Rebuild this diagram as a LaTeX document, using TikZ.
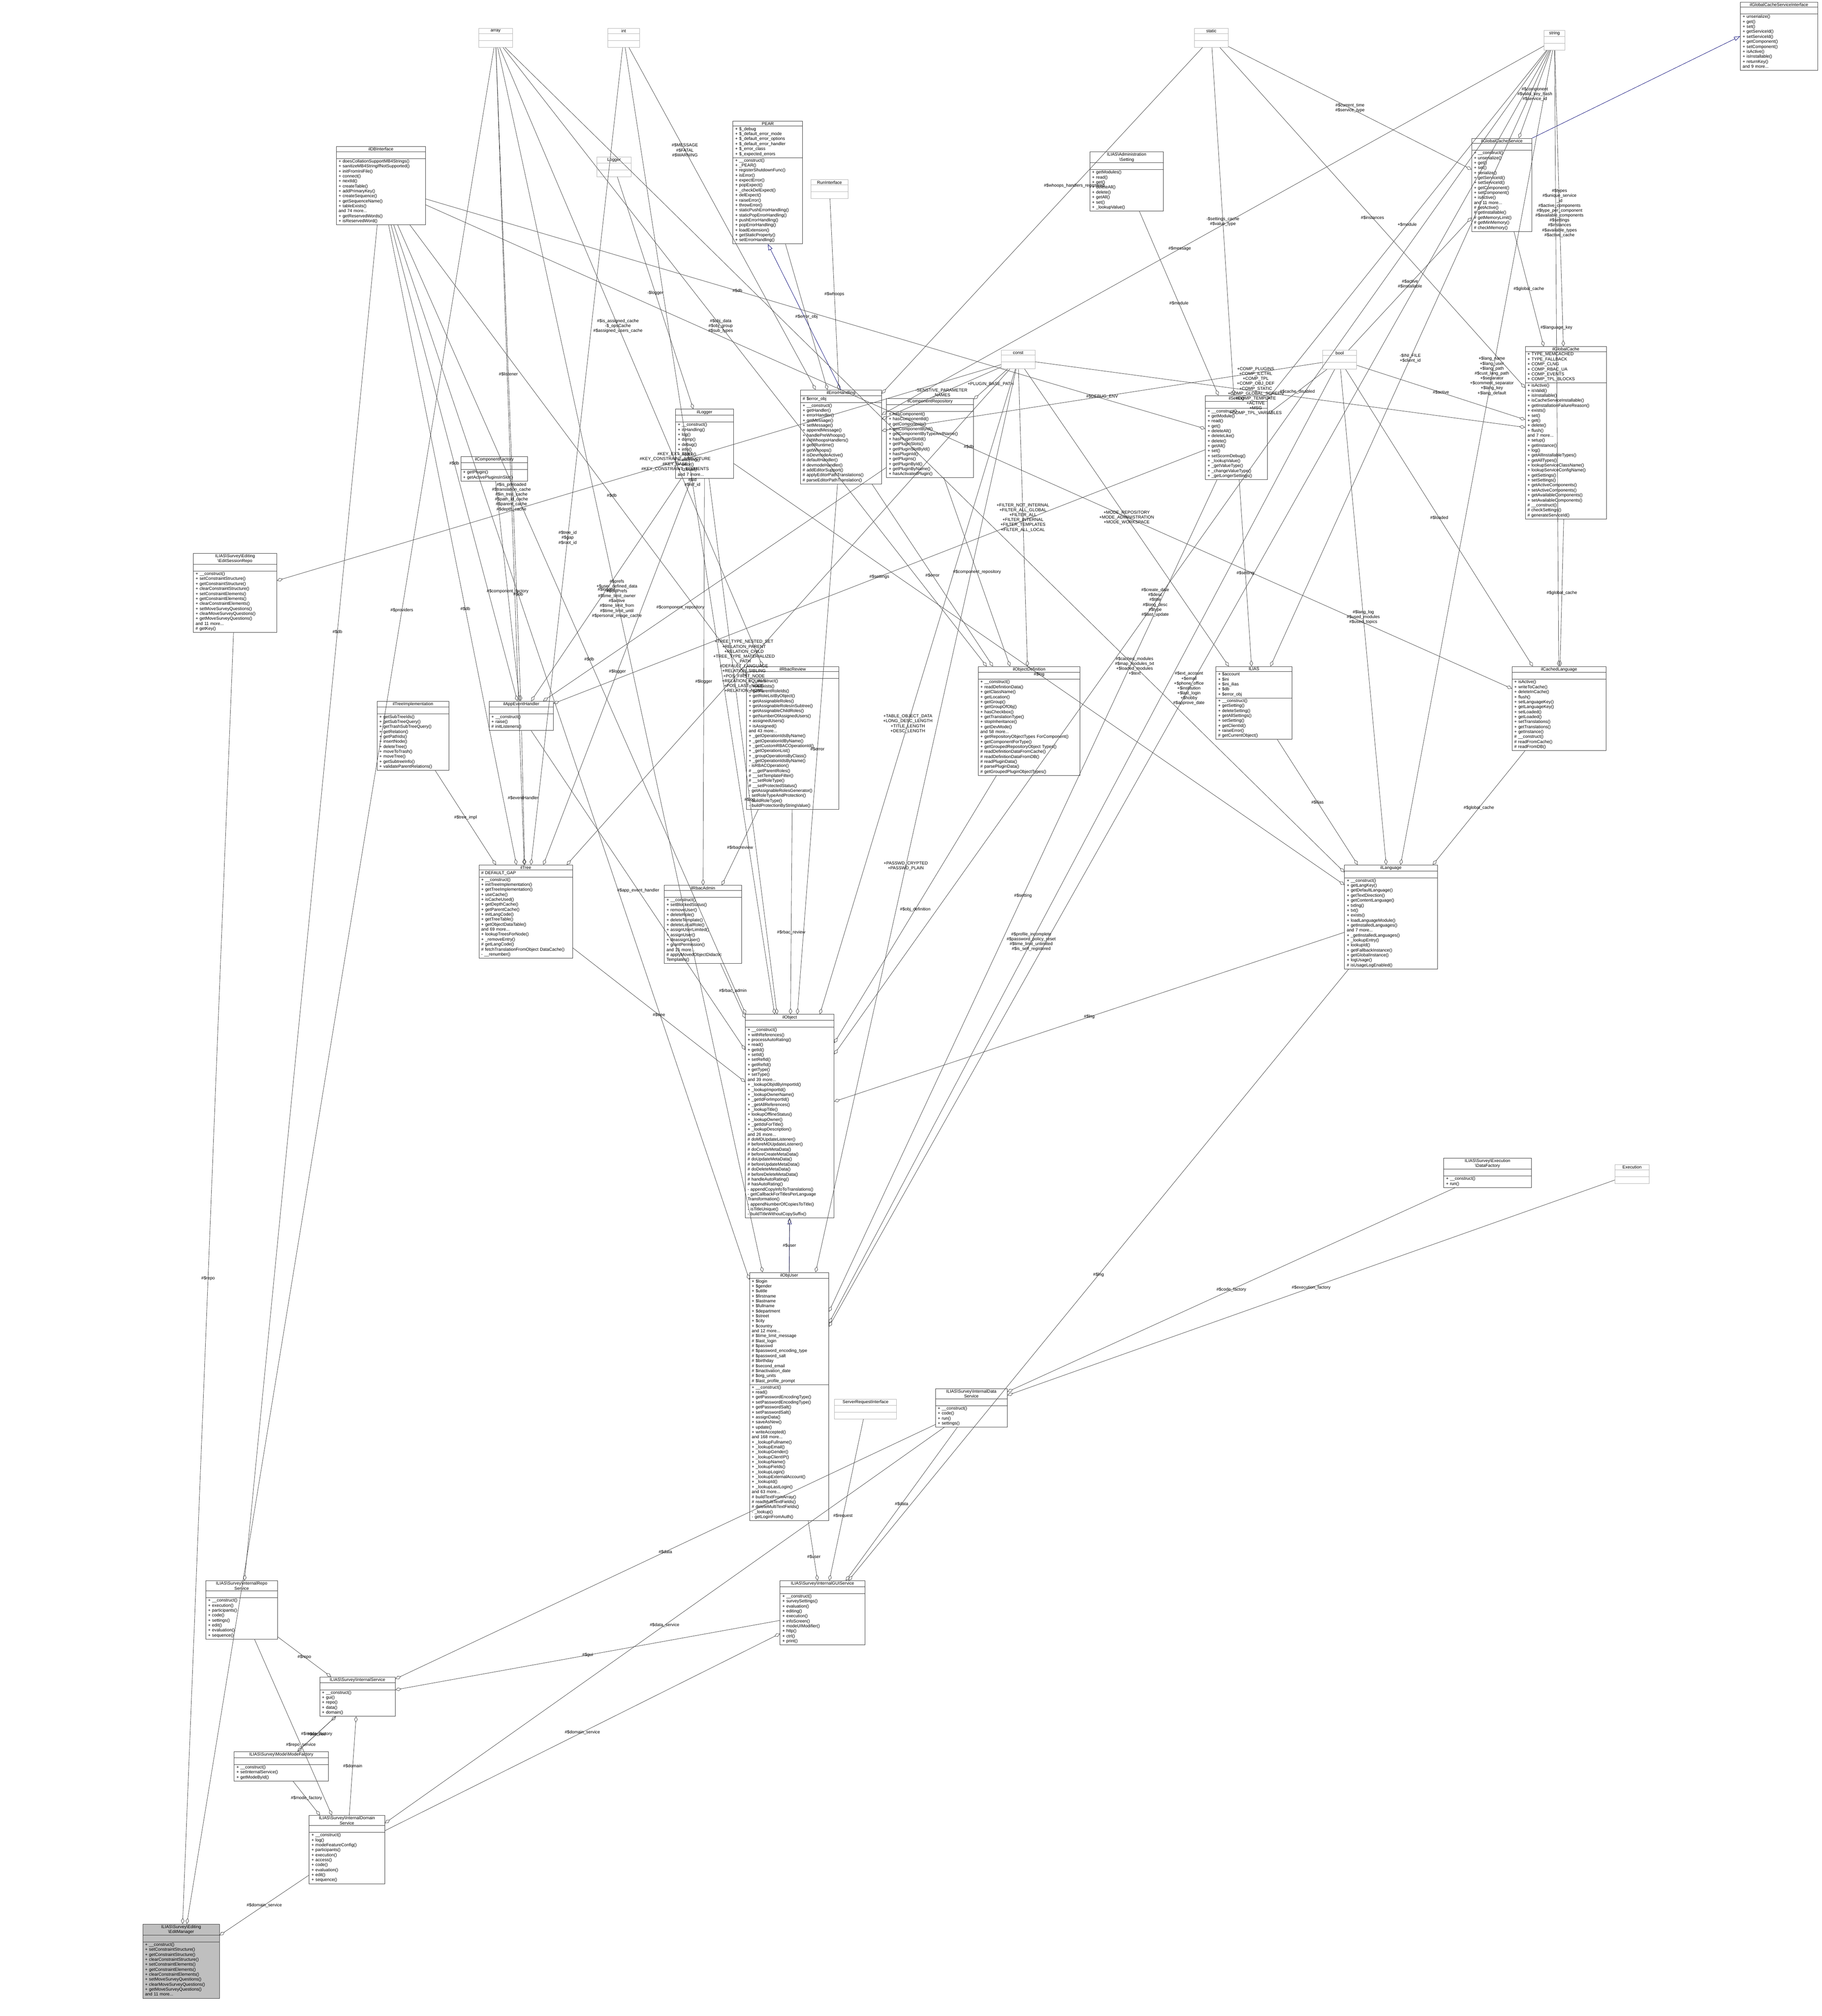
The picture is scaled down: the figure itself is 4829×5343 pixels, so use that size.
\documentclass[tikz,border=0pt]{standalone}
\usepackage{fontspec}
\setmainfont{Liberation Sans}
\usetikzlibrary{shapes.multipart,arrows.meta}
\newcommand\bs{\textbackslash{}}
\newcommand\umlc[8]{\node[cls,text width=#4pt,#8] (#1) at (#2,#3)
 {\centering #5\par\nodepart{two}\raggedright\leftskip=6pt #6\strut\par\nodepart{three}\raggedright\leftskip=6pt #7\strut\par};}
\tikzset{
 cls/.style={rectangle split,rectangle split parts=3,draw=black!80,line width=1pt,anchor=north west,
   inner xsep=0pt,inner ysep=2pt,font=\fontsize{11.5}{13.2}\selectfont,fill=white},
 grey/.style={draw=black!30},
 agg/.style={draw=black!75,line width=0.9pt,-{Diamond[open,length=16pt,width=9pt]}},
 inh/.style={draw=blue!45!black,line width=0.9pt,-{Triangle[open,length=16pt,width=11pt]}},
 lbl/.style={font=\fontsize{11.5}{13}\selectfont,align=center,inner sep=1pt}
}
\begin{document}
\begin{tikzpicture}[x=1pt,y=-1pt]
\useasboundingbox (0,0) rectangle (4829,5343);
\fill[white] (0,0) rectangle (4829,5343);
% small grey boxes
\umlc{array}{1268}{75}{90}{array}{}{}{grey}
\umlc{int}{1610}{75}{85}{int}{}{}{grey}
\umlc{static}{3165}{75}{90}{static}{}{}{grey}
\umlc{string}{4092}{80}{55}{string}{}{}{grey}
\umlc{Logger}{1582}{416}{90}{Logger}{}{}{grey}
\umlc{const}{2653}{928}{90}{const}{}{}{grey}
\umlc{bool}{3505}{928}{90}{bool}{}{}{grey}
\umlc{Execution}{4280}{3086}{90}{Execution}{}{}{grey}
\umlc{RunInterface}{2149}{476}{98}{RunInterface}{}{}{grey}
\umlc{SRI}{2211}{3708}{165}{ServerRequestInterface}{}{}{grey}
% classes
\umlc{IGCSI}{4612}{5}{205}{ilGlobalCacheServiceInterface}{}{+ unserialize()\\+ get()\\+ set()\\+ getServiceId()\\+ setServiceId()\\+ getComponent()\\+ setComponent()\\+ isActive()\\+ isInstallable()\\+ returnKey()\\and 9 more...}{}
\umlc{PEAR}{1942}{321}{185}{PEAR}{+ \$\_debug\\+ \$\_default\_error\_mode\\+ \$\_default\_error\_options\\+ \$\_default\_error\_handler\\+ \$\_error\_class\\+ \$\_expected\_errors}{+ \_\_construct()\\+ \_PEAR()\\+ registerShutdownFunc()\\+ isError()\\+ expectError()\\+ popExpect()\\+ \_checkDelExpect()\\+ delExpect()\\+ raiseError()\\+ throwError()\\+ staticPushErrorHandling()\\+ staticPopErrorHandling()\\+ pushErrorHandling()\\+ popErrorHandling()\\+ loadExtension()\\+ getStaticProperty()\\+ setErrorHandling()}{}
\umlc{AdmSetting}{2888}{402}{195}{ILIAS\bs Administration\\\bs Setting}{}{+ getModules()\\+ read()\\+ get()\\+ deleteAll()\\+ delete()\\+ getAll()\\+ set()\\+ \_lookupValue()}{}
\umlc{IGCS}{3900}{366}{160}{ilGlobalCacheService}{}{+ \_\_construct()\\+ unserialize()\\+ get()\\+ set()\\+ serialize()\\+ getServiceId()\\+ setServiceId()\\+ getComponent()\\+ setComponent()\\+ isActive()\\and 11 more...\\\# getActive()\\\# getInstallable()\\\# getMemoryLimit()\\\# getMinMemory()\\\# checkMemory()}{}
\umlc{ilDB}{891}{388}{236}{ilDBInterface}{}{+ doesCollationSupportMB4Strings()\\+ sanitizeMB4StringIfNotSupported()\\+ initFromIniFile()\\+ connect()\\+ nextId()\\+ createTable()\\+ addPrimaryKey()\\+ createSequence()\\+ getSequenceName()\\+ tableExists()\\and 74 more...\\+ getReservedWords()\\+ isReservedWord()}{}
\umlc{ilErr}{2121}{1033}{215}{ilErrorHandling}{\# \$error\_obj}{+ \_\_construct()\\+ getHandler()\\+ errorHandler()\\+ getMessage()\\+ setMessage()\\+ appendMessage()\\+ handlePreWhoops()\\\# initWhoopsHandlers()\\\# getIlRuntime()\\\# getWhoops()\\\# isDevmodeActive()\\\# defaultHandler()\\\# devmodeHandler()\\\# addEditorSupport()\\\# applyEditorPathTranslations()\\\# parseEditorPathTranslation()}{}
\umlc{ilCR}{2349}{1056}{231}{ilComponentRepository}{}{+ hasComponent()\\+ hasComponentId()\\+ getComponents()\\+ getComponentById()\\+ getComponentByTypeAndName()\\+ hasPluginSlotId()\\+ getPluginSlots()\\+ getPluginSlotById()\\+ hasPluginId()\\+ getPlugins()\\+ getPluginById()\\+ getPluginByName()\\+ hasActivatedPlugin()}{}
\umlc{ilSetting}{3194}{1048}{165}{ilSetting}{}{+ \_\_construct()\\+ getModule()\\+ read()\\+ get()\\+ deleteAll()\\+ deleteLike()\\+ delete()\\+ getAll()\\+ set()\\+ setScormDebug()\\+ \_lookupValue()\\+ \_getValueType()\\+ \_changeValueType()\\+ \_getLongerSettings()}{}
\umlc{ilGC}{4042}{918}{215}{ilGlobalCache}{+ TYPE\_MEMCACHED\\+ TYPE\_FALLBACK\\+ COMP\_CLNG\\+ COMP\_RBAC\_UA\\+ COMP\_EVENTS\\+ COMP\_TPL\_BLOCKS}{+ isActive()\\+ isValid()\\+ isInstallable()\\+ isCacheServiceInstallable()\\+ getInstallationFailureReason()\\+ exists()\\+ set()\\+ get()\\+ delete()\\+ flush()\\and 7 more...\\+ setup()\\+ getInstance()\\+ log()\\+ getAllInstallableTypes()\\+ getAllTypes()\\+ lookupServiceClassName()\\+ lookupServiceConfigName()\\+ getSettings()\\+ setSettings()\\+ getActiveComponents()\\+ setActiveComponents()\\+ getAvailableComponents()\\+ setAvailableComponents()\\\# \_\_construct()\\\# checkSettings()\\\# generateServiceId()}{}
\umlc{ilLogger}{1790}{1084}{154}{ilLogger}{}{+ \_\_construct()\\+ isHandling()\\+ log()\\+ dump()\\+ debug()\\+ info()\\+ notice()\\+ warning()\\+ error()\\+ critical()\\and 7 more...}{}
\umlc{ilCF}{1221}{1210}{177}{ilComponentFactory}{}{+ getPlugin()\\+ getActivePluginsInSlot()}{}
\umlc{ESR}{512}{1466}{221}{ILIAS\bs Survey\bs Editing\\\bs EditSessionRepo}{}{+ \_\_construct()\\+ setConstraintStructure()\\+ getConstraintStructure()\\+ clearConstraintStructure()\\+ setConstraintElements()\\+ getConstraintElements()\\+ clearConstraintElements()\\+ setMoveSurveyQuestions()\\+ clearMoveSurveyQuestions()\\+ getMoveSurveyQuestions()\\and 11 more...\\\# getKey()}{}
\umlc{ilTI}{999}{1858}{190}{ilTreeImplementation}{}{+ getSubTreeIds()\\+ getSubTreeQuery()\\+ getTrashSubTreeQuery()\\+ getRelation()\\+ getPathIds()\\+ insertNode()\\+ deleteTree()\\+ moveToTrash()\\+ moveTree()\\+ getSubtreeInfo()\\+ validateParentRelations()}{}
\umlc{ilAEH}{1296}{1858}{170}{ilAppEventHandler}{}{+ \_\_construct()\\+ raise()\\\# initListeners()}{}
\umlc{ilRR}{1978}{1766}{245}{ilRbacReview}{}{+ \_\_construct()\\+ roleExists()\\+ getParentRoleIds()\\+ getRoleListByObject()\\+ getAssignableRoles()\\+ getAssignableRolesInSubtree()\\+ getAssignableChildRoles()\\+ getNumberOfAssignedUsers()\\+ assignedUsers()\\+ isAssigned()\\and 43 more...\\+ \_getOperationIdsByName()\\+ \_getOperationIdByName()\\+ \_getCustomRBACOperationId()\\+ \_getOperationList()\\+ \_groupOperationsByClass()\\+ \_getOperationIdsByName()\\- isRBACOperation()\\\# \_\_getParentRoles()\\\# \_\_setTemplateFilter()\\\# \_\_setRoleType()\\\# \_\_setProtectedStatus()\\- getAssignableRolesGenerator()\\- setRoleTypeAndProtection()\\- buildRoleType()\\- buildProtectionByStringValue()}{}
\umlc{ilOD}{2592}{1766}{270}{ilObjectDefinition}{}{+ \_\_construct()\\+ readDefinitionData()\\+ getClassName()\\+ getLocation()\\+ getGroup()\\+ getGroupOfObj()\\+ hasCheckbox()\\+ getTranslationType()\\+ stopInheritance()\\+ getDevMode()\\and 58 more...\\+ getRepositoryObjectTypes ForComponent()\\+ getComponentForType()\\+ getGroupedRepositoryObject Types()\\\# readDefinitionDataFromCache()\\\# readDefinitionDataFromDB()\\\# readPluginData()\\\# parsePluginData()\\\# getGroupedPluginObjectTypes()}{}
\umlc{ilIAS}{3222}{1766}{202}{ILIAS}{+ \$account\\+ \$ini\\+ \$ini\_ilias\\+ \$db\\+ \$error\_obj}{+ \_\_construct()\\+ getSetting()\\+ deleteSetting()\\+ getAllSettings()\\+ setSetting()\\+ getClientId()\\+ raiseError()\\\# getCurrentObject()}{}
\umlc{ilCL}{4007}{1766}{249}{ilCachedLanguage}{}{+ isActive()\\+ writeToCache()\\+ deleteInCache()\\+ flush()\\+ setLanguageKey()\\+ getLanguageKey()\\+ setLoaded()\\+ getLoaded()\\+ setTranslations()\\+ getTranslations()\\+ getInstance()\\\# \_\_construct()\\\# readFromCache()\\\# readFromDB()}{}
\umlc{ilTree}{1269}{2292}{248}{ilTree}{\# DEFAULT\_GAP}{+ \_\_construct()\\+ initTreeImplementation()\\+ getTreeImplementation()\\+ useCache()\\+ isCacheUsed()\\+ getDepthCache()\\+ getParentCache()\\+ initLangCode()\\+ getTreeTable()\\+ getObjectDataTable()\\and 69 more...\\+ lookupTreesForNode()\\+ \_removeEntry()\\\# getLangCode()\\\# fetchTranslationFromObject DataCache()\\- \_\_renumber()}{}
\umlc{ilRA}{1760}{2346}{205}{ilRbacAdmin}{}{+ \_\_construct()\\+ setBlockedStatus()\\+ removeUser()\\+ deleteRole()\\+ deleteTemplate()\\+ deleteLocalRole()\\+ assignUserLimited()\\+ assignUser()\\+ deassignUser()\\+ grantPermission()\\and 15 more...\\\# applyMovedObjectDidactic Templates()}{}
\umlc{ilLng}{3563}{2292}{246}{ilLanguage}{}{+ \_\_construct()\\+ getLangKey()\\+ getDefaultLanguage()\\+ getTextDirection()\\+ getContentLanguage()\\+ txtlng()\\+ txt()\\+ exists()\\+ loadLanguageModule()\\+ getInstalledLanguages()\\and 7 more...\\+ \_getInstalledLanguages()\\+ \_lookupEntry()\\+ lookupId()\\+ getFallbackInstance()\\+ getGlobalInstance()\\+ logUsage()\\\# isUsageLogEnabled()}{}
\umlc{ilObject}{1975}{2688}{235}{ilObject}{}{+ \_\_construct()\\+ withReferences()\\+ processAutoRating()\\+ read()\\+ getId()\\+ setId()\\+ setRefId()\\+ getRefId()\\+ getType()\\+ setType()\\and 39 more...\\+ \_lookupObjIdByImportId()\\+ \_lookupImportId()\\+ \_lookupOwnerName()\\+ \_getIdForImportId()\\+ \_getAllReferences()\\+ \_lookupTitle()\\+ lookupOfflineStatus()\\+ \_lookupOwner()\\+ \_getIdsForTitle()\\+ \_lookupDescription()\\and 26 more...\\\# doMDUpdateListener()\\\# beforeMDUpdateListener()\\\# doCreateMetaData()\\\# beforeCreateMetaData()\\\# doUpdateMetaData()\\\# beforeUpdateMetaData()\\\# doDeleteMetaData()\\\# beforeDeleteMetaData()\\\# handleAutoRating()\\\# hasAutoRating()\\- appendCopyInfoToTranslations()\\- getCallbackForTitlesPerLanguage Transformation()\\- appendNumberOfCopiesToTitle()\\- isTitleUnique()\\- buildTitleWithoutCopySuffix()}{}
\umlc{ilObjUser}{1986}{3372}{210}{ilObjUser}{+ \$login\\+ \$gender\\+ \$utitle\\+ \$firstname\\+ \$lastname\\+ \$fullname\\+ \$department\\+ \$street\\+ \$city\\+ \$country\\and 12 more...\\\# \$time\_limit\_message\\\# \$last\_login\\\# \$passwd\\\# \$password\_encoding\_type\\\# \$password\_salt\\\# \$birthday\\\# \$second\_email\\\# \$inactivation\_date\\\# \$org\_units\\\# \$last\_profile\_prompt}{+ \_\_construct()\\+ read()\\+ getPasswordEncodingType()\\+ setPasswordEncodingType()\\+ getPasswordSalt()\\+ setPasswordSalt()\\+ assignData()\\+ saveAsNew()\\+ update()\\+ writeAccepted()\\and 168 more...\\+ \_lookupFullname()\\+ \_lookupEmail()\\+ \_lookupGender()\\+ \_lookupClientIP()\\+ \_lookupName()\\+ \_lookupFields()\\+ \_lookupLogin()\\+ \_lookupExternalAccount()\\+ \_lookupId()\\+ \_lookupLastLogin()\\and 63 more...\\\# buildTextFromArray()\\\# readMultiTextFields()\\\# deleteMultiTextFields()\\- \_lookup()\\- getLoginFromAuth()}{}
\umlc{DF}{3826}{3069}{232}{ILIAS\bs Survey\bs Execution\\\bs DataFactory}{}{+ \_\_construct()\\+ run()}{}
\umlc{IDS}{2479}{3680}{190}{ILIAS\bs Survey\bs InternalData\\Service}{}{+ \_\_construct()\\+ code()\\+ run()\\+ settings()}{}
\umlc{IRS}{545}{4189}{190}{ILIAS\bs Survey\bs InternalRepo\\Service}{}{+ \_\_construct()\\+ execution()\\+ participants()\\+ code()\\+ settings()\\+ edit()\\+ evaluation()\\+ sequence()}{}
\umlc{IGS}{2067}{4189}{225}{ILIAS\bs Survey\bs InternalGUIService}{}{+ \_\_construct()\\+ surveySettings()\\+ evaluation()\\+ editing()\\+ execution()\\+ infoScreen()\\+ modeUIModifier()\\+ http()\\+ ctrl()\\+ print()}{}
\umlc{IS}{847}{4444}{200}{ILIAS\bs Survey\bs InternalService}{}{+ \_\_construct()\\+ gui()\\+ repo()\\+ data()\\+ domain()}{}
\umlc{MF}{620}{4642}{250}{ILIAS\bs Survey\bs Mode\bs ModeFactory}{}{+ \_\_construct()\\+ setInternalService()\\+ getModeById()}{}
\umlc{IDomS}{819}{4811}{200}{ILIAS\bs Survey\bs InternalDomain\\Service}{}{+ \_\_construct()\\+ log()\\+ modeFeatureConfig()\\+ participants()\\+ execution()\\+ access()\\+ code()\\+ evaluation()\\+ edit()\\+ sequence()}{}
\umlc{EM}{378}{5099}{203}{ILIAS\bs Survey\bs Editing\\\bs EditManager}{}{+ \_\_construct()\\+ setConstraintStructure()\\+ getConstraintStructure()\\+ clearConstraintStructure()\\+ setConstraintElements()\\+ getConstraintElements()\\+ clearConstraintElements()\\+ setMoveSurveyQuestions()\\+ clearMoveSurveyQuestions()\\+ getMoveSurveyQuestions()\\and 11 more...}{fill=black!25}
% inheritance
\draw[inh] (ilErr.north) -- (PEAR.south);
\draw[inh] (IGCS.north east) -- (IGCSI.west);
\draw[inh] (ilObjUser.north) -- (ilObject.south);
% aggregations
\draw[agg] (ilDB) -- (ilObject) node[lbl,pos=.55]{\#\$db};
\draw[agg] (ilDB) -- (ilTree) node[lbl,pos=.6]{\#\$db};
\draw[agg] (ilDB) -- (ilRR) node[lbl,pos=.6]{\#\$db};
\draw[agg] (ilDB) -- (ilSetting) node[lbl,pos=.4]{\#\$db};
\draw[agg] (ilDB) -- (IRS) node[lbl,pos=.3]{\#\$db};
\draw[agg] (ilDB) -- (ilObjUser) node[lbl,pos=.35]{\#\$db};
\draw[agg] (ilDB) -- (ilAEH) node[lbl,pos=.5]{\#\$db};
\draw[agg] (ilDB) -- (ilCL) node[lbl,pos=.5]{\#\$db};
\draw[agg] (array) -- (ilObjUser) node[lbl,pos=.45]{\#\$prefs\\+\$user\_defined\_data\\\#\$oldPrefs\\\#\$time\_limit\_owner\\\#\$active\\\#\$time\_limit\_from\\\#\$time\_limit\_until\\\#\$personal\_image\_cache};
\draw[agg] (array) -- (ilTree) node[lbl,pos=.55]{\#\$is\_preloaded\\\#\$translation\_cache\\\#\$in\_tree\_cache\\\#\$path\_id\_cache\\\#\$parent\_cache\\\#\$depth\_cache};
\draw[agg] (array) -- (ilRR) node[lbl,pos=.45]{\#\$is\_assigned\_cache\\-\$\_opsCache\\\#\$assigned\_users\_cache};
\draw[agg] (array) -- (ilOD) node[lbl,pos=.45]{\#\$obj\_data\\\#\$obj\_group\\\#\$sub\_types};
\draw[agg] (array) -- (ilAEH) node[lbl,pos=.5]{\#\$listener};
\draw[agg] (array) -- (EM) node[lbl,pos=.3]{\#\$providers};
\draw[agg] (array) -- (ilLng) node[lbl,pos=.75]{\#\$cached\_modules\\\#\$map\_modules\_txt\\+\$loaded\_modules\\+\$text};
\draw[agg] (int) -- (ilTree) node[lbl,pos=.6]{\#\$tree\_id\\\#\$gap\\\#\$root\_id};
\draw[agg] (int) -- (ilObject) node[lbl,pos=.45]{\#\$id\\\#\$ref\_id};
\draw[agg] (int) -- (ilErr) node[lbl,pos=.3]{\#\$MESSAGE\\\#\$FATAL\\\#\$WARNING};
\draw[agg] (static) -- (ilGC) node[lbl,pos=.5]{\#\$instances};
\draw[agg] (static) -- (IGCS) node[lbl,pos=.5]{\#\$current\_time\\\#\$service\_type};
\draw[agg] (static) -- (ilSetting) node[lbl,pos=.5]{-\$settings\_cache\\\#\$value\_type};
\draw[agg] (static) -- (ilErr) node[lbl,pos=.4]{\#\$whoops\_handlers\_registered};
\draw[agg] (string) -- (IGCS) node[lbl,pos=.5]{\#\$component\\\#\$valid\_key\_hash\\\#\$service\_id};
\draw[agg] (string) -- (ilGC) node[lbl,pos=.55]{\#\$types\\\#\$unique\_service\\\_id\\\#\$active\_components\\\#\$type\_per\_component\\\#\$available\_components\\\#\$settings\\\#\$instances\\\#\$available\_types\\\#\$active\_cache};
\draw[agg] (string) -- (ilCL) node[lbl,pos=.45]{\#\$language\_key};
\draw[agg] (string) -- (ilLng) node[lbl,pos=.4]{+\$lang\_name\\+\$lang\_user\\+\$lang\_path\\\#\$cust\_lang\_path\\+\$separator\\+\$comment\_separator\\+\$lang\_key\\+\$lang\_default};
\draw[agg] (string) -- (ilObjUser) node[lbl,pos=.5]{\#\$ext\_account\\+\$email\\+\$phone\_office\\+\$institution\\+\$last\_login\\+\$hobby\\\#\$approve\_date};
\draw[agg] (string) -- (ilObject) node[lbl,pos=.55]{\#\$create\_date\\\#\$desc\\\#\$title\\\#\$long\_desc\\\#\$type\\\#\$last\_update};
\draw[agg] (string) -- (ilIAS) node[lbl,pos=.5]{-\$INI\_FILE\\+\$client\_id};
\draw[agg] (string) -- (ilErr) node[lbl,pos=.55]{\#\$message};
\draw[agg] (string) -- (ilSetting) node[lbl,pos=.5]{+\$module};
\draw[agg] (RunInterface) -- (ilErr) node[lbl,pos=.5]{\#\$whoops};
\draw[agg] (Logger) -- (ilLogger) node[lbl,pos=.5]{-\$logger};
\draw[agg] (ilLogger) -- (ilTree) node[lbl,pos=.5]{\#\$logger};
\draw[agg] (ilLogger) -- (ilRA) node[lbl,pos=.5]{\#\$logger};
\draw[agg] (ilLogger) -- (ilAEH) node[lbl,pos=.5]{\#\$logger};
\draw[agg] (ilLogger) -- (ilObject) node[lbl,pos=.6]{\#\$log};
\draw[agg] (ilLogger) -- (ilLng) node[lbl,pos=.5]{\#\$log};
\draw[agg] (ilCF) -- (ilAEH) node[lbl,pos=.5]{\#\$component\_factory};
\draw[agg] (ilCR) -- (ilAEH) node[lbl,pos=.6]{\#\$component\_repository};
\draw[agg] (ilCR) -- (ilOD) node[lbl,pos=.5]{\#\$component\_repository};
\draw[agg] (ilSetting) -- (ilIAS) node[lbl,pos=.5]{\#\$setting};
\draw[agg] (ilSetting) -- (ilAEH) node[lbl,pos=.5]{\#\$settings};
\draw[agg] (ilSetting) -- (ilObjUser) node[lbl,pos=.5]{\#\$setting};
\draw[agg] (AdmSetting) -- (ilSetting) node[lbl,pos=.5]{\#\$module};
\draw[agg] (const) -- (ilErr) node[lbl,pos=.5]{-SENSTIVE\_PARAMETER\\\_NAMES};
\draw[agg] (const) -- (ilCR) node[lbl,pos=.5]{+PLUGIN\_BASE\_PATH};
\draw[agg] (const) -- (ilOD) node[lbl,pos=.5]{+FILTER\_NOT\_INTERNAL\\+FILTER\_ALL\_GLOBAL\\+FILTER\_ALL\\+FILTER\_INTERNAL\\+FILTER\_TEMPLATES\\+FILTER\_ALL\_LOCAL};
\draw[agg] (const) -- (ilObject) node[lbl,pos=.55]{+TABLE\_OBJECT\_DATA\\+LONG\_DESC\_LENGTH\\+TITLE\_LENGTH\\+DESC\_LENGTH};
\draw[agg] (const) -- (ilTree) node[lbl,pos=.6]{+TREE\_TYPE\_NESTED\_SET\\+RELATION\_PARENT\\+RELATION\_CHILD\\+TREE\_TYPE\_MATERIALIZED\\\_PATH\\\#DEFAULT\_LANGUAGE\\+RELATION\_SIBLING\\+POS\_FIRST\_NODE\\+RELATION\_EQUALS\\+POS\_LAST\_NODE\\+RELATION\_NONE};
\draw[agg] (const) -- (ilGC) node[lbl,pos=.45]{+COMP\_PLUGINS\\+COMP\_ILCTRL\\+COMP\_TPL\\+COMP\_OBJ\_DEF\\+COMP\_STATIC\\+COMP\_GLOBAL\_SCREEN\\+COMP\_TEMPLATE\\+ACTIVE\\+MSG\\+COMP\_TPL\_VARIABLES};
\draw[agg] (const) -- (ilObjUser) node[lbl,pos=.55]{+PASSWD\_CRYPTED\\+PASSWD\_PLAIN};
\draw[agg] (const) -- (ESR) node[lbl,pos=.45]{\#KEY\_EXT\_TEXT\\\#KEY\_CONSTRAINT\_STRUCTURE\\\#KEY\_BASE\\\#KEY\_CONSTRAINT\_ELEMENTS};
\draw[agg] (const) -- (ilIAS) node[lbl,pos=.5]{+MODE\_REPOSITORY\\+MODE\_ADMINISTRATION\\+MODE\_WORKSPACE};
\draw[agg] (bool) -- (ilGC) node[lbl,pos=.5]{\#\$active};
\draw[agg] (bool) -- (ilSetting) node[lbl,pos=.5]{\#\$cache\_disabled};
\draw[agg] (bool) -- (ilLng) node[lbl,pos=.5]{\#\$lang\_log\\\#\$used\_modules\\\#\$used\_topics};
\draw[agg] (bool) -- (ilCL) node[lbl,pos=.5]{\#\$loaded};
\draw[agg] (bool) -- (ilObjUser) node[lbl,pos=.6]{\#\$profile\_incomplete\\\#\$password\_policy\_reset\\\#\$time\_limit\_unlimited\\\#\$is\_self\_registered};
\draw[agg] (bool) -- (IGCS) node[lbl,pos=.5]{\#\$active\\\#\$installable};
\draw[agg] (bool) -- (ilErr) node[lbl,pos=.5]{\#\$DEBUG\_ENV};
\draw[agg] (IGCS) -- (ilGC) node[lbl,pos=.5]{\#\$global\_cache};
\draw[agg] (ilGC) -- (ilCL) node[lbl,pos=.5]{\#\$global\_cache};
\draw[agg] (ilCL) -- (ilLng) node[lbl,pos=.5]{\#\$global\_cache};
\draw[agg] (ilIAS) -- (ilLng) node[lbl,pos=.5]{\#\$ilias};
\draw[agg] (ilLng) -- (ilObject) node[lbl,pos=.5]{\#\$lng};
\draw[agg] (ilLng) -- (IGS) node[lbl,pos=.5]{\#\$lng};
\draw[agg] (ilErr) -- (ilObject) node[lbl,pos=.5]{\#\$error};
\draw[agg] (ilErr) -- (ilOD) node[lbl,pos=.5]{\#\$error};
\draw[agg] (PEAR) -- (ilErr) node[lbl,pos=.5]{\#\$error\_obj};
\draw[agg] (ilTree) -- (ilObject) node[lbl,pos=.5]{\#\$tree};
\draw[agg] (ilTI) -- (ilTree) node[lbl,pos=.5]{\#\$tree\_impl};
\draw[agg] (ilAEH) -- (ilTree) node[lbl,pos=.5]{\#\$eventHandler};
\draw[agg] (ilAEH) -- (ilObject) node[lbl,pos=.5]{\#\$app\_event\_handler};
\draw[agg] (ilRA) -- (ilObject) node[lbl,pos=.5]{\#\$rbac\_admin};
\draw[agg] (ilRR) -- (ilObject) node[lbl,pos=.6]{\#\$rbac\_review};
\draw[agg] (ilRR) -- (ilRA) node[lbl,pos=.5]{\#\$rbacreview};
\draw[agg] (ilOD) -- (ilObject) node[lbl,pos=.5]{\#\$obj\_definition};
\draw[agg] (ilObjUser) -- (ilObject) node[lbl,pos=.5]{\#\$user};
\draw[agg] (ilObjUser) -- (IGS) node[lbl,pos=.6]{\#\$user};
\draw[agg] (SRI) -- (IGS) node[lbl,pos=.6]{\#\$request};
\draw[agg] (IDS) -- (IGS) node[lbl,pos=.5]{\#\$data};
\draw[agg] (IDS) -- (IS) node[lbl,pos=.5]{\#\$data};
\draw[agg] (IDS) -- (IDomS) node[lbl,pos=.5]{\#\$data\_service};
\draw[agg] (DF) -- (IDS) node[lbl,pos=.5]{\#\$code\_factory};
\draw[agg] (Execution) -- (IDS) node[lbl,pos=.5]{\#\$execution\_factory};
\draw[agg] (IRS) -- (IS) node[lbl,pos=.5]{\#\$repo};
\draw[agg] (IRS) -- (IDomS) node[lbl,pos=.6]{\#\$repo\_service};
\draw[agg] (IGS) -- (IS) node[lbl,pos=.5]{\#\$gui};
\draw[agg] (IDomS) -- (IS) node[lbl,pos=.5]{\#\$domain};
\draw[agg] (IDomS) -- (EM) node[lbl,pos=.5]{\#\$domain\_service};
\draw[agg] (IDomS) -- (IGS) node[lbl,pos=.5]{\#\$domain\_service};
\draw[agg] (MF) -- (IS) node[lbl,pos=.5]{\#\$mode\_factory};
\draw[agg] (MF) -- (IDomS) node[lbl,pos=.5]{\#\$mode\_factory};
\draw[agg] (IS) -- (MF) node[lbl,pos=.5]{\#\$service};
\draw[agg] (ESR) -- (EM) node[lbl,pos=.5]{\#\$repo};
\end{tikzpicture}
\end{document}
